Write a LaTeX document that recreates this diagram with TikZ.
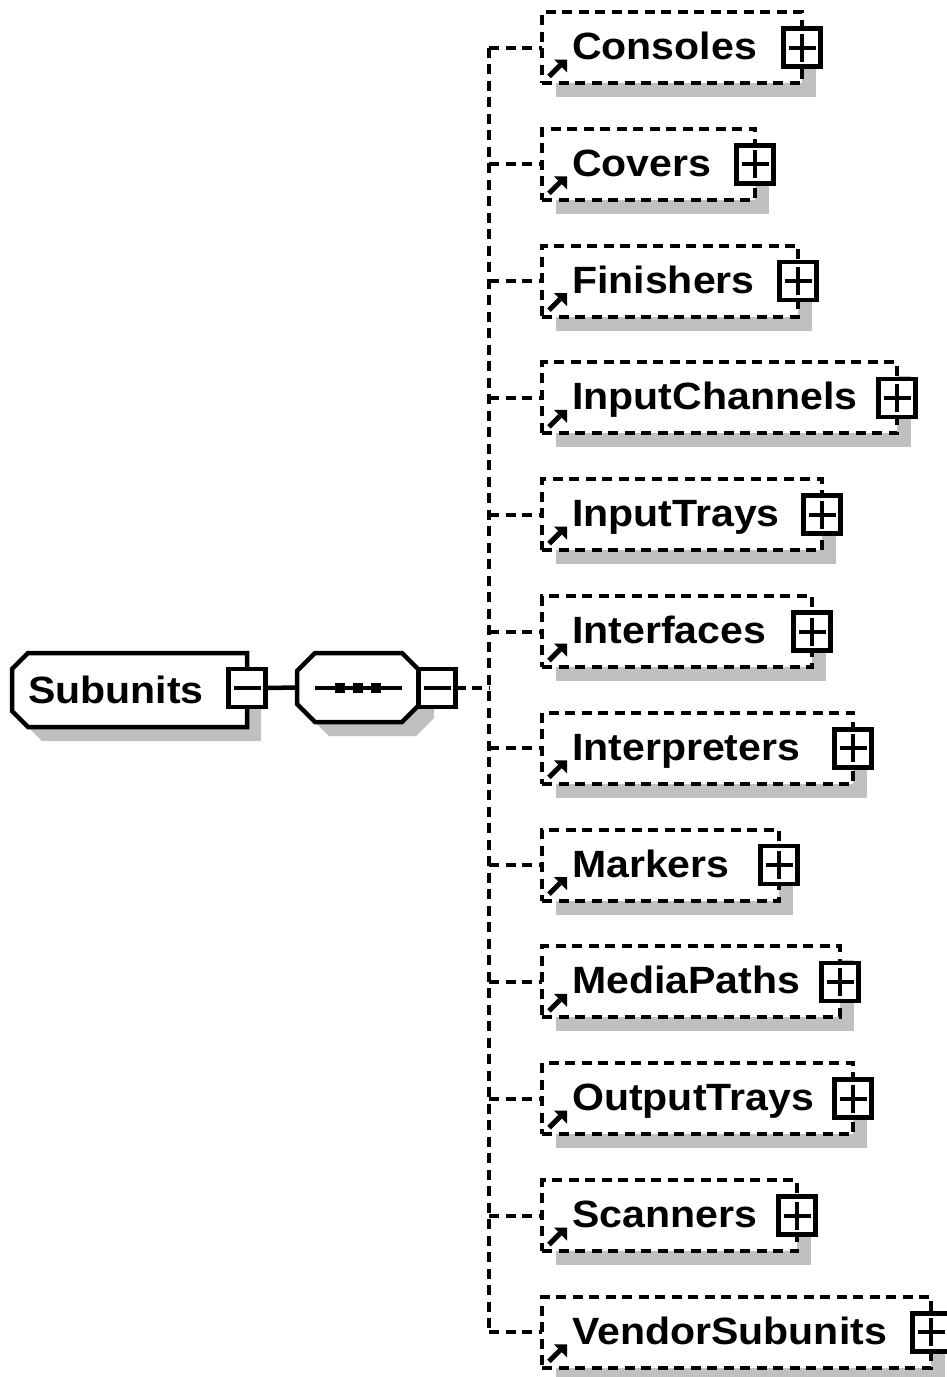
\documentclass[tikz,border=0pt]{standalone}
\usepackage{fontspec}
\newfontfamily\labfont{Liberation Sans}[FakeStretch=1.08]
\usetikzlibrary{shadows}
\definecolor{shadowgray}{RGB}{192,192,192}
\tikzset{
  sh/.style={drop shadow={shadow xshift=14pt, shadow yshift=-14pt, opacity=1, fill=shadowgray}},
  dashline/.style={line width=4pt, dash pattern=on 10pt off 6.5pt},
  childbox/.style={draw, fill=white, dashline, sh, minimum height=71pt, inner sep=0pt, outer sep=0pt, anchor=west},
  pmbox/.style={draw, fill=white, line width=4.5pt, minimum width=37pt, minimum height=38pt, inner sep=0pt, outer sep=0pt},
  labeltext/.style={font=\labfont\bfseries\fontsize{38}{40}\selectfont, inner sep=0pt, anchor=base west},
  sign/.style={line width=4pt},
}
\begin{document}
\begin{tikzpicture}[x=1pt, y=-1pt]
\useasboundingbox (0,0) rectangle (946,1377);
\coordinate (trunk) at (489,688);

% Subunits element
\path[draw, fill=white, line width=4.5pt, sh] (28,653) -- (247,653) -- (247,727) -- (28,727) -- (12,711) -- (12,669) -- cycle;
\node[labeltext] (subunits) at (28,703) {Subunits};
\node[pmbox] (subminus) at (247,688) {};
\draw[sign] ([xshift=5pt]subminus.west) -- ([xshift=-5pt]subminus.east);

% sequence compositor
\path[draw, fill=white, line width=4.5pt, sh] (297,671) -- (315,653) -- (402,653) -- (420,671) -- (420,704) -- (402,722) -- (315,722) -- (297,704) -- cycle;
\node[minimum width=123pt, minimum height=69pt, inner sep=0pt, outer sep=0pt] (seq) at (358.5,687.5) {};
\draw[sign] ([xshift=18pt]seq.west) -- ([xshift=-18pt]seq.east);
\foreach \sx in {340,358,376} \fill (\sx-5,683) rectangle (\sx+5,693);
\node[pmbox] (seqminus) at (437,688) {};
\draw[sign] ([xshift=5pt]seqminus.west) -- ([xshift=-5pt]seqminus.east);

\draw[line width=4.5pt] (subminus.east) -- (seq.west);
\draw[dashline] (seqminus.east) -- (trunk);

% children
\foreach \i/\nm/\txt/\r in {0/consoles/Consoles/802, 1/covers/Covers/755, 2/finishers/Finishers/798, 3/inputchannels/InputChannels/897, 4/inputtrays/InputTrays/822, 5/interfaces/Interfaces/812, 6/interpreters/Interpreters/853, 7/markers/Markers/779, 8/mediapaths/MediaPaths/840, 9/outputtrays/OutputTrays/853, 10/scanners/Scanners/797, 11/vendorsubunits/VendorSubunits/931}{
  \pgfmathsetmacro\c{47.5+\i*116.8}
  \pgfmathsetmacro\w{\r-542}
  \node[childbox, minimum width=\w pt] (\nm) at (542,\c) {};
  \node[labeltext] (\nm-label) at (572,\c+12) {\txt};
  \draw[line width=5pt] (549,\c+29) -- (560,\c+18);
  \fill (554,\c+12) -- (567,\c+12) -- (567,\c+25) -- cycle;
  \node[pmbox] (\nm-plus) at (\nm.east) {};
  \draw[sign] ([xshift=5pt]\nm-plus.west) -- ([xshift=-5pt]\nm-plus.east)
              ([yshift=-5pt]\nm-plus.north) -- ([yshift=5pt]\nm-plus.south);
  \draw[dashline] (\nm.west -| trunk) -- (\nm.west);
}
\draw[dashline] (consoles.west -| trunk) -- (vendorsubunits.west -| trunk);
\end{tikzpicture}
\end{document}
